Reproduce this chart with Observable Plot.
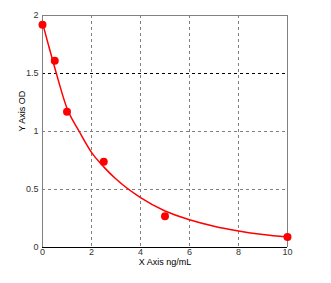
<!DOCTYPE html>
<html><head>
<meta charset="utf-8">
<script src="https://cdn.jsdelivr.net/npm/d3@7"></script>
<script src="https://cdn.jsdelivr.net/npm/@observablehq/plot@0.6"></script>
<style>body{margin:0;background:#fff}</style>
</head><body><div id="chart"></div>
<script>
const conc = [0, 0.5, 1, 2.5, 5, 10];
const od = [1.92, 1.61, 1.17, 0.74, 0.27, 0.09];
const curveX = [0, 0.25, 0.5, 1, 1.5, 2, 2.5, 3, 4, 5, 6, 7, 8, 9, 10];
const curveY = [1.935, 1.74, 1.55, 1.2, 1.0, 0.82, 0.695, 0.59, 0.43, 0.315, 0.24, 0.184, 0.143, 0.112, 0.09];
const xTicks = [0, 2, 4, 6, 8, 10];
const yTicks = [0, 0.5, 1, 1.5, 2];
const xGrid = [2, 4, 6, 8];
const yGridGray = [0.5, 1];
const yGridBlack = [1.5];
const xTitle = "X Axis ng/mL";
const yTitle = "Y Axis OD";

const points = conc.map((c, i) => ({x: c, y: od[i]}));
const curve = curveX.map((c, i) => ({x: c, y: curveY[i]}));

const chart = Plot.plot({
  width: 331,
  height: 283,
  marginLeft: 42,
  marginRight: 44,
  marginTop: 15,
  marginBottom: 36,
  style: {fontFamily: "Liberation Sans, Arial, sans-serif", fontSize: "9px", background: "#fff"},
  x: {domain: [0, 10]},
  y: {domain: [0, 2]},
  marks: [
    Plot.ruleX(xGrid, {stroke: "#808080", strokeDasharray: "3,3", strokeWidth: 1}),
    Plot.ruleY(yGridGray, {stroke: "#808080", strokeDasharray: "3,3", strokeWidth: 1}),
    Plot.ruleY(yGridBlack, {stroke: "#000", strokeDasharray: "3,3", strokeWidth: 1}),
    Plot.ruleX([0, 10], {stroke: "#808080", strokeWidth: 1}),
    Plot.ruleY([2], {stroke: "#808080", strokeWidth: 1}),
    Plot.ruleY([0], {stroke: "#000", strokeWidth: 1}),
    Plot.axisX({ticks: xTicks, tickSize: 0, tickPadding: 1, label: null, fill: "#333", tickFormat: d => String(d)}),
    Plot.axisY({ticks: yTicks, tickSize: 0, tickPadding: 4, label: null, fill: "#333", tickFormat: d => String(d)}),
    Plot.line(curve, {x: "x", y: "y", stroke: "#ff0000", strokeWidth: 1.5, curve: "monotone-x"}),
    Plot.dot(points, {x: "x", y: "y", r: 4, fill: "#ff0000", stroke: "none"}),
    Plot.text([xTitle], {frameAnchor: "bottom", dy: 15, lineAnchor: "middle", fill: "#000", fontSize: 9}),
    Plot.text([yTitle], {frameAnchor: "left", dx: -20, rotate: -90, lineAnchor: "middle", fill: "#000", fontSize: 9})
  ]
});
document.getElementById("chart").append(chart);
</script>
</body></html>
